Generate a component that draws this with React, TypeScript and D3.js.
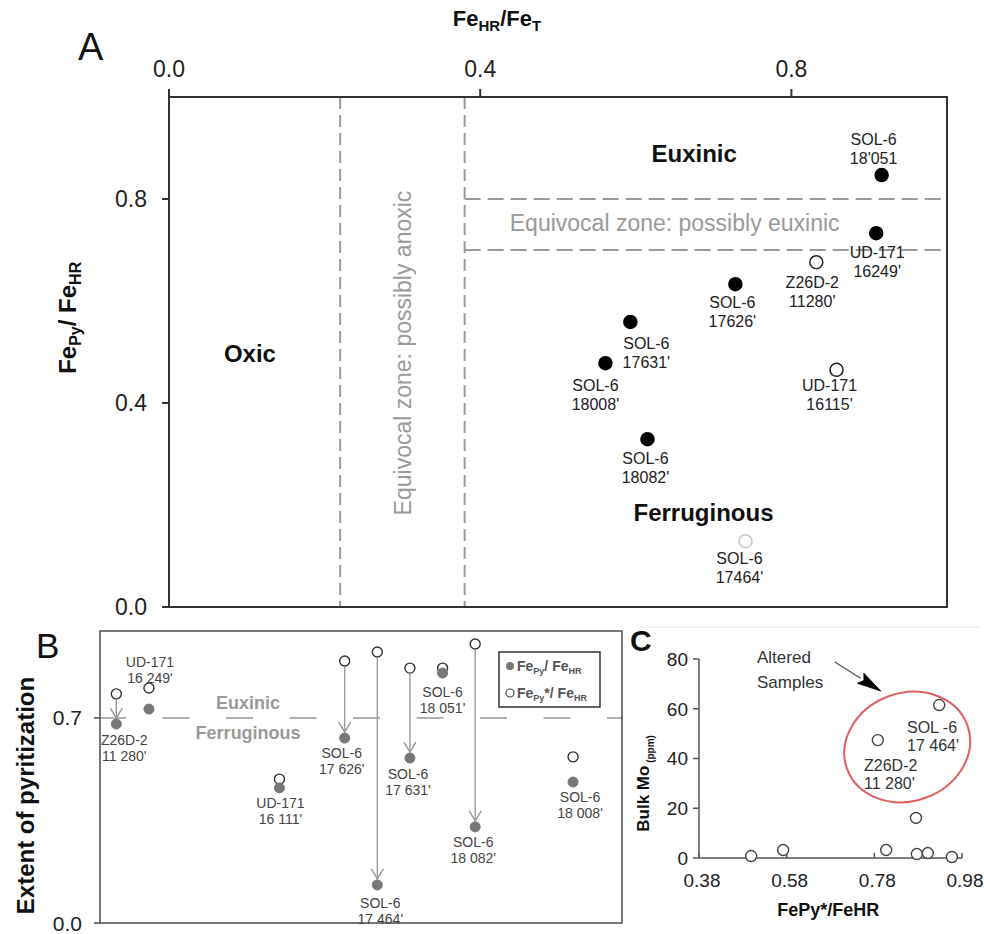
import React from "react";
import * as d3 from "d3";

const W = 984;
const H = 934;
const FONT = "'Liberation Sans', Arial, Helvetica, sans-serif";

// ---------------- Panel A data ----------------
const aXTicks = [0.0, 0.4, 0.8];
const aYTicks = [0.0, 0.4, 0.8];
const aAnoxicThresholds = [0.22, 0.38];
const aEuxinicThresholds = [0.7, 0.8];
const aNames = ["SOL-6", "UD-171", "Z26D-2", "SOL-6", "SOL-6", "SOL-6", "UD-171", "SOL-6", "SOL-6"];
const aDepths = ["18'051", "16249'", "11280'", "17626'", "17631'", "18008'", "16115'", "18082'", "17464'"];
const aFeHRFeT = [0.916, 0.909, 0.832, 0.728, 0.593, 0.561, 0.858, 0.615, 0.741];
const aFePyFeHR = [0.847, 0.733, 0.676, 0.633, 0.559, 0.478, 0.465, 0.329, 0.129];
const aKind = ["filled", "filled", "open", "filled", "filled", "filled", "open", "filled", "faint"];
// label offsets (px) from point to centre of first label line
const aLabelDx = [-8, 1, -4, -3, 16, -10, -7, -2, -6];
const aLabelDy = [-36, 19, 20, 18, 21, 22, 16, 19, 17];

// ---------------- Panel B data ----------------
const bYTicks = [0.0, 0.7];
const bNames = ["Z26D-2", "UD-171", "UD-171", "SOL-6", "SOL-6", "SOL-6", "SOL-6", "SOL-6", "SOL-6"];
const bDepths = ["11 280'", "16 249'", "16 111'", "17 626'", "17 464'", "17 631'", "18 051'", "18 082'", "18 008'"];
const bSlot = [0.5, 1.5, 5.5, 7.5, 8.5, 9.5, 10.5, 11.5, 14.5];
const bFePy = [0.679, 0.73, 0.461, 0.631, 0.13, 0.563, 0.853, 0.328, 0.481];
const bFePyStar = [0.782, 0.802, 0.491, 0.894, 0.925, 0.87, 0.87, 0.952, 0.567];
const bArrow = [true, false, false, true, true, true, false, true, false];
const bLabelDx = [8, 1, 1, -3, 3, -2, 0, -2, 7];
const bLabelDy = [16, -47, 15, 15, 18, 16, 19, 15, 15];
const bThreshold = 0.7;

// ---------------- Panel C data ----------------
const cXTicks = [0.38, 0.58, 0.78, 0.98];
const cYTicks = [0, 20, 40, 60, 80];
const cFePyStar = [0.499, 0.572, 0.807, 0.877, 0.902, 0.957, 0.875, 0.788, 0.928];
const cMo = [0.8, 3.2, 3.2, 1.6, 2.0, 0.4, 16.1, 47.4, 61.5];

function TwoLine(props: {
  x: number;
  y: number;
  l1: string;
  l2: string;
  size: number;
  lh: number;
  color: string;
  anchor?: string;
}) {
  const { x, y, l1, l2, size, lh, color } = props;
  const anchor = props.anchor || "middle";
  return (
    <g fontSize={size} fill={color} textAnchor={anchor}>
      <text x={x} y={y} dy="0.35em">{l1}</text>
      <text x={x} y={y + lh} dy="0.35em">{l2}</text>
    </g>
  );
}

export default function App() {
  // Panel A scales
  const xA = d3.scaleLinear().domain([0, 1]).range([169, 947]);
  const yA = d3.scaleLinear().domain([0, 1]).range([607, 97]);
  // Panel B scales
  const xB = d3.scaleLinear().domain([0, 16]).range([100, 622]);
  const yB = d3.scaleLinear().domain([0, 1]).range([923, 630]);
  // Panel C scales
  const xC = d3.scaleLinear().domain([0.38, 0.98]).range([699, 962]);
  const yC = d3.scaleLinear().domain([0, 80]).range([858, 659]);

  const rA = 6.5;
  const rB = 5;
  const rC = 5.5;
  const dashA = "12,6";

  // annotation arrow geometry (panel C)
  const arS = [xC(0.69), yC(78.8)];
  const arT = [xC(0.795), yC(67.1)];
  const adx = arT[0] - arS[0];
  const ady = arT[1] - arS[1];
  const alen = Math.hypot(adx, ady);
  const ux = adx / alen;
  const uy = ady / alen;
  const headL = 24;
  const headW = 6;
  const bx = arT[0] - ux * headL;
  const by = arT[1] - uy * headL;
  const headPts = `${arT[0]},${arT[1]} ${bx - uy * headW},${by + ux * headW} ${bx + ux * 4},${by + uy * 4} ${bx + uy * headW},${by - ux * headW}`;

  return (
    <svg
      width={W}
      height={H}
      viewBox={`0 0 ${W} ${H}`}
      style={{ position: "absolute", left: 0, top: 0, background: "#fff" }}
      fontFamily={FONT}
    >
      <rect x={0} y={0} width={W} height={H} fill="#fff" />

      {/* ================= PANEL A ================= */}
      <text x={78} y={60} fontSize={38} fill="#111">A</text>
      {/* top axis title */}
      <text x={497} y={26} fontSize={22} fontWeight="bold" textAnchor="middle" fill="#111">
        Fe<tspan fontSize={15} dy={5}>HR</tspan>
        <tspan dy={-5}>/Fe</tspan>
        <tspan fontSize={15} dy={5}>T</tspan>
      </text>
      {/* left axis title */}
      <text
        transform={`translate(76,${yA(0.567)}) rotate(-90)`}
        fontSize={24}
        fontWeight="bold"
        textAnchor="middle"
        fill="#111"
      >
        Fe<tspan fontSize={16} dy={5}>Py</tspan>
        <tspan dy={-5}>/ Fe</tspan>
        <tspan fontSize={16} dy={5}>HR</tspan>
      </text>

      {/* zone lines */}
      {aAnoxicThresholds.map((t) => (
        <line
          key={"v" + t}
          x1={xA(t)}
          x2={xA(t)}
          y1={yA(1)}
          y2={yA(0)}
          stroke="#9a9a9a"
          strokeWidth={2}
          strokeDasharray={dashA}
        />
      ))}
      {aEuxinicThresholds.map((t) => (
        <line
          key={"h" + t}
          x1={xA(aAnoxicThresholds[1])}
          x2={xA(1)}
          y1={yA(t)}
          y2={yA(t)}
          stroke="#9a9a9a"
          strokeWidth={2}
          strokeDasharray={"16,7"}
        />
      ))}

      {/* frame */}
      <rect x={xA(0)} y={yA(1)} width={xA(1) - xA(0)} height={yA(0) - yA(1)} fill="none" stroke="#333" strokeWidth={2} />
      {/* top ticks */}
      {aXTicks.map((t) => (
        <g key={"ax" + t}>
          <line x1={xA(t)} x2={xA(t)} y1={yA(1)} y2={yA(1) - 8} stroke="#333" strokeWidth={2} />
          <text x={xA(t)} y={77} fontSize={23} textAnchor="middle" fill="#222">
            {d3.format(".1f")(t)}
          </text>
        </g>
      ))}
      {/* left ticks */}
      {aYTicks.map((t) => (
        <g key={"ay" + t}>
          <line x1={xA(0) - 7} x2={xA(0)} y1={yA(t)} y2={yA(t)} stroke="#333" strokeWidth={2} />
          <text x={147} y={yA(t)} dy="0.36em" fontSize={23} textAnchor="end" fill="#222">
            {d3.format(".1f")(t)}
          </text>
        </g>
      ))}

      {/* zone labels */}
      <text x={xA(0.675)} y={yA(0.89)} dy="0.35em" fontSize={24} fontWeight="bold" textAnchor="middle" fill="#111">
        Euxinic
      </text>
      <text x={xA(0.65)} y={yA(0.753)} dy="0.35em" fontSize={23} textAnchor="middle" fill="#9a9a9a">
        Equivocal zone: possibly euxinic
      </text>
      <text x={xA(0.687)} y={yA(0.186)} dy="0.35em" fontSize={24} fontWeight="bold" textAnchor="middle" fill="#111">
        Ferruginous
      </text>
      <text x={xA(0.104)} y={yA(0.496)} dy="0.35em" fontSize={24} fontWeight="bold" textAnchor="middle" fill="#111">
        Oxic
      </text>
      <text
        transform={`translate(${xA(0.301)},${yA(0.498)}) rotate(-90)`}
        dy="0.35em"
        fontSize={23}
        textAnchor="middle"
        fill="#9a9a9a"
      >
        Equivocal zone: possibly anoxic
      </text>

      {/* points */}
      {aFeHRFeT.map((v, i) => {
        const k = aKind[i];
        return (
          <circle
            key={"ap" + i}
            cx={xA(v)}
            cy={yA(aFePyFeHR[i])}
            r={rA}
            fill={k === "filled" ? "#000" : "#fff"}
            stroke={k === "filled" ? "#000" : k === "open" ? "#222" : "#c8c8c8"}
            strokeWidth={1.5}
          />
        );
      })}
      {aFeHRFeT.map((v, i) => (
        <TwoLine
          key={"al" + i}
          x={xA(v) + aLabelDx[i]}
          y={yA(aFePyFeHR[i]) + aLabelDy[i]}
          l1={aNames[i]}
          l2={aDepths[i]}
          size={16}
          lh={19}
          color="#222"
        />
      ))}

      {/* ================= PANEL B ================= */}
      <text x={36} y={658} fontSize={35} fill="#111">B</text>
      <text
        transform={`translate(34,${(yB(0.85) + yB(0.02)) / 2}) rotate(-90)`}
        fontSize={24}
        fontWeight="bold"
        textAnchor="middle"
        fill="#111"
      >
        Extent of pyritization
      </text>

      <line
        x1={99}
        x2={xB(16)}
        y1={yB(bThreshold)}
        y2={yB(bThreshold)}
        stroke="#b0b0b0"
        strokeWidth={2}
        strokeDasharray="27,36.5"
      />
      <rect x={xB(0)} y={yB(1) + 1} width={xB(16) - xB(0)} height={yB(0) - yB(1) - 1} fill="none" stroke="#555" strokeWidth={1.6} />
      {bYTicks.map((t) => (
        <g key={"by" + t}>
          <line x1={xB(0) - 6} x2={xB(0)} y1={yB(t)} y2={yB(t)} stroke="#555" strokeWidth={1.6} />
          <text x={82} y={yB(t)} dy="0.36em" fontSize={21} textAnchor="end" fill="#222">
            {d3.format(".1f")(t)}
          </text>
        </g>
      ))}
      <text x={xB(4.54)} y={yB(0.751)} dy="0.35em" fontSize={18} fontWeight="bold" textAnchor="middle" fill="#9a9a9a">
        Euxinic
      </text>
      <text x={xB(4.54)} y={yB(0.648)} dy="0.35em" fontSize={18} fontWeight="bold" textAnchor="middle" fill="#9a9a9a">
        Ferruginous
      </text>

      {/* arrows */}
      {bSlot.map((s, i) => {
        if (!bArrow[i]) return null;
        const x = xB(s);
        const y1 = yB(bFePyStar[i]) + rB + 1;
        const y2 = yB(bFePy[i]) - rB - 1;
        return (
          <g key={"ba" + i} stroke="#9a9a9a" strokeWidth={1.4} fill="none">
            <line x1={x} x2={x} y1={y1} y2={y2} />
            <polyline points={`${x - 6},${y2 - 10} ${x},${y2} ${x + 6},${y2 - 10}`} />
          </g>
        );
      })}
      {bSlot.map((s, i) => (
        <circle key={"bo" + i} cx={xB(s)} cy={yB(bFePyStar[i])} r={rB} fill="#fff" stroke="#333" strokeWidth={1.4} />
      ))}
      {bSlot.map((s, i) => (
        <circle key={"bf" + i} cx={xB(s)} cy={yB(bFePy[i])} r={rB} fill="#777" stroke="#777" strokeWidth={1} />
      ))}
      {bSlot.map((s, i) => (
        <TwoLine
          key={"bl" + i}
          x={xB(s) + bLabelDx[i]}
          y={yB(bFePy[i]) + bLabelDy[i]}
          l1={bNames[i]}
          l2={bDepths[i]}
          size={14}
          lh={16}
          color="#444"
        />
      ))}

      {/* legend */}
      <rect x={499} y={652} width={101} height={55} fill="#fff" stroke="#333" strokeWidth={1.5} />
      <circle cx={510} cy={666} r={4} fill="#777" />
      <text x={517} y={666} dy="0.35em" fontSize={14} fontWeight="bold" fill="#555">
        Fe<tspan fontSize={9} dy={3}>Py</tspan>
        <tspan dy={-3}>/ Fe</tspan>
        <tspan fontSize={9} dy={3}>HR</tspan>
      </text>
      <circle cx={510} cy={693} r={4} fill="#fff" stroke="#444" strokeWidth={1.2} />
      <text x={517} y={693} dy="0.35em" fontSize={14} fontWeight="bold" fill="#555">
        Fe<tspan fontSize={9} dy={3}>Py</tspan>
        <tspan dy={-3}>*/ Fe</tspan>
        <tspan fontSize={9} dy={3}>HR</tspan>
      </text>

      {/* ================= PANEL C ================= */}
      <line x1={640} x2={980} y1={627} y2={627} stroke="#eeeeee" strokeWidth={1.5} />
      <text x={630} y={651} fontSize={30} fontWeight="bold" fill="#111">C</text>
      <text
        transform={`translate(649,${(yC(0) + yC(60)) / 2}) rotate(-90)`}
        fontSize={17}
        fontWeight="bold"
        textAnchor="middle"
        fill="#111"
      >
        Bulk Mo<tspan fontSize={10} dy={5}> (ppm)</tspan>
      </text>
      <text x={xC(0.675)} y={916} fontSize={18} fontWeight="bold" textAnchor="middle" fill="#111">
        FePy*/FeHR
      </text>

      <line x1={xC(0.38)} x2={xC(0.38)} y1={yC(80)} y2={yC(0)} stroke="#555" strokeWidth={1.5} />
      <line x1={xC(0.38)} x2={xC(0.98)} y1={yC(0)} y2={yC(0)} stroke="#555" strokeWidth={1.5} />
      {cYTicks.map((t) => (
        <g key={"cy" + t}>
          <line x1={xC(0.38) - 6} x2={xC(0.38)} y1={yC(t)} y2={yC(t)} stroke="#555" strokeWidth={1.5} />
          <text x={688} y={yC(t)} dy="0.36em" fontSize={19} textAnchor="end" fill="#222">
            {t}
          </text>
        </g>
      ))}
      {cXTicks.map((t) => (
        <g key={"cx" + t}>
          <line x1={xC(t)} x2={xC(t)} y1={yC(0)} y2={yC(0) - 5} stroke="#555" strokeWidth={1.5} />
          <text x={xC(t) + 3} y={887} fontSize={19} textAnchor="middle" fill="#222">
            {d3.format(".2f")(t)}
          </text>
        </g>
      ))}

      {/* altered samples ellipse */}
      <ellipse
        cx={xC(0.855)}
        cy={yC(44.6)}
        rx={64}
        ry={54}
        transform={`rotate(-20,${xC(0.855)},${yC(44.6)})`}
        fill="none"
        stroke="#e06060"
        strokeWidth={2}
      />
      {/* annotation arrow */}
      <line x1={arS[0]} y1={arS[1]} x2={bx} y2={by} stroke="#555" strokeWidth={1.3} />
      <polygon points={headPts} fill="#000" stroke="#000" strokeWidth={0.8} />
      <text x={757} y={657} dy="0.35em" fontSize={17} fill="#333">Altered</text>
      <text x={757} y={682} dy="0.35em" fontSize={17} fill="#333">Samples</text>

      {cFePyStar.map((v, i) => (
        <circle key={"cp" + i} cx={xC(v)} cy={yC(cMo[i])} r={rC} fill="#fff" stroke="#444" strokeWidth={1.4} />
      ))}
      <TwoLine x={907} y={727} l1="SOL -6" l2="17 464'" size={16} lh={18} color="#333" anchor="start" />
      <TwoLine x={864} y={765} l1="Z26D-2" l2="11 280'" size={16} lh={18} color="#333" anchor="start" />
    </svg>
  );
}
